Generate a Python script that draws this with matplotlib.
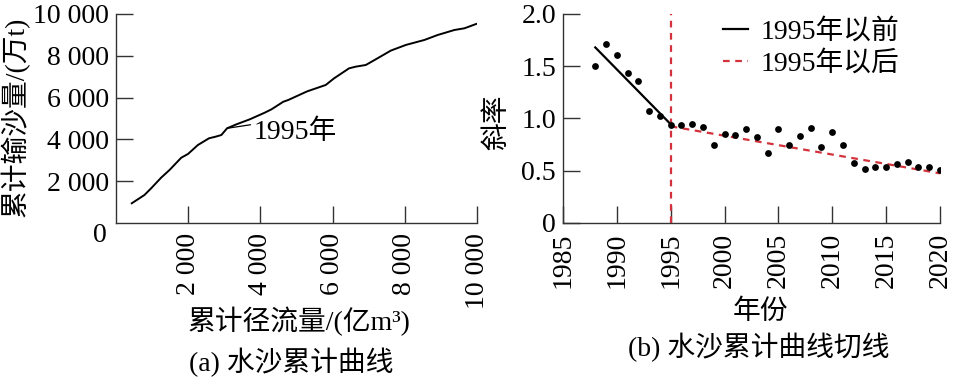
import matplotlib
matplotlib.use('Agg')
import matplotlib.pyplot as plt

plt.rcParams['font.family'] = ['Liberation Serif', 'Noto Sans CJK SC']
plt.rcParams['font.size'] = 20
plt.rcParams['axes.unicode_minus'] = False

# (a) cumulative runoff vs cumulative sediment
runoff = [436, 787, 972, 1250, 1481, 1806, 1991, 2268, 2574, 2759, 2917, 3074,
          3333, 3704, 4120, 4306, 4630, 4769, 5296, 5806, 6037, 6453, 6639, 6917,
          7241, 7611, 8028, 8537, 8907, 9370, 9648, 9972]
sediment = [943, 1340, 1660, 2170, 2536, 3124, 3300, 3732, 4052, 4130, 4210, 4530,
            4720, 4960, 5280, 5440, 5800, 5885, 6300, 6603, 6920, 7400, 7480, 7560,
            7880, 8250, 8520, 8756, 8995, 9234, 9315, 9522]
mark_1995 = (3074, 4530)
xticks_a = [2000, 4000, 6000, 8000, 10000]
xlabels_a = ['2 000', '4 000', '6 000', '8 000', '10 000']
yticks_a = [2000, 4000, 6000, 8000, 10000]
ylabels_a = ['2 000', '4 000', '6 000', '8 000', '10 000']

# (b) slope of the cumulative curve
years = list(range(1988, 2021))
slope = [1.505, 1.71, 1.61, 1.44, 1.36, 1.07, 1.025, 0.94, 0.94, 0.95, 0.92,
         0.75, 0.856, 0.84, 0.895, 0.82, 0.674, 0.898, 0.748, 0.837, 0.91,
         0.725, 0.866, 0.75, 0.578, 0.52, 0.54, 0.534, 0.565, 0.58, 0.54,
         0.54, 0.508]
fit_years_before = [1988, 1995]
fit_before = [1.68, 0.945]
fit_years_after = [1995, 2020]
fit_after = [0.925, 0.475]
xticks_b = [1985, 1990, 1995, 2000, 2005, 2010, 2015, 2020]
yticks_b = [0, 0.5, 1.0, 1.5, 2.0]
ylabels_b = ['0', '0.5', '1.0', '1.5', '2.0']

red = '#d3323c'
spine_c = '#333333'

fig = plt.figure(figsize=(9.63, 3.8), dpi=100)
ax1 = fig.add_axes([0.1205, 0.4132, 0.375, 0.55])
ax2 = fig.add_axes([0.5846, 0.4132, 0.3915, 0.55])

for ax in (ax1, ax2):
    for s in ('top', 'right'):
        ax.spines[s].set_visible(False)
    for s in ('left', 'bottom'):
        ax.spines[s].set_color(spine_c)
        ax.spines[s].set_linewidth(1.0)
    ax.tick_params(direction='in', length=12, width=1.0, color=spine_c)
    ax.tick_params(axis='x', pad=7)
    ax.tick_params(axis='y', pad=5)

# left panel
ax1.plot(runoff, sediment, color='black', lw=1.4)
ax1.set_xlim(0, 10000)
ax1.set_ylim(0, 10000)
ax1.set_xticks(xticks_a)
ax1.set_xticklabels(xlabels_a, rotation=90)
ax1.set_yticks(yticks_a)
ax1.set_yticklabels(ylabels_a)
ax1.text(-0.044, -0.062, '0', transform=ax1.transAxes, ha='center', va='center')
ax1.annotate('1995年', xy=mark_1995, xytext=(3800, 4330), ha='left', va='center',
             arrowprops=dict(arrowstyle='-', color='black', lw=0.9,
                             shrinkA=0, shrinkB=0, relpos=(0, 0.82)))

# right panel
ax2.scatter(years, slope, s=24, color='black', zorder=3, linewidths=0)
ax2.plot(fit_years_before, fit_before, color='black', lw=1.6, label='1995年以前')
ax2.plot(fit_years_after, fit_after, color=red, lw=1.6, ls=(0, (3, 2.5)),
         label='1995年以后')
ax2.axvline(1995, color=red, lw=1.6, ls=(0, (3, 2.5)))
ax2.set_xlim(1985, 2020)
ax2.set_ylim(0, 2.0)
ax2.set_xticks(xticks_b)
ax2.set_xticklabels([str(y) for y in xticks_b], rotation=90)
ax2.set_yticks(yticks_b)
ax2.set_yticklabels(ylabels_b)
ax2.legend(loc='upper left', bbox_to_anchor=(0.424, 0.975), frameon=False,
           handlelength=0.9, handletextpad=0.45, labelspacing=0.2,
           borderpad=0, borderaxespad=0)

# axis titles and captions
fig.text(0.0156, 0.692, '累计输沙量/(万t)', rotation=90, ha='center', va='center')
fig.text(0.3105, 0.153, '累计径流量/(亿m³)', ha='center', va='center')
fig.text(0.302, 0.047, '(a) 水沙累计曲线', ha='center', va='center')
fig.text(0.517, 0.679, '斜率', rotation=90, ha='center', va='center')
fig.text(0.790, 0.179, '年份', ha='center', va='center')
fig.text(0.788, 0.087, '(b) 水沙累计曲线切线', ha='center', va='center')

fig.savefig('out.png', dpi=100)
